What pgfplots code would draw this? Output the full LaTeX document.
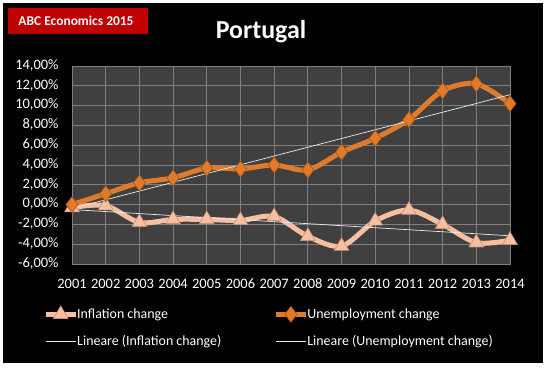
\documentclass[border=0pt]{standalone}
\usepackage{pgfplots}
\pgfplotsset{compat=1.18}
\usepackage{fontspec}
\setmainfont{Carlito}
\definecolor{plotbg}{HTML}{404040}
\definecolor{gridc}{HTML}{7F7F7F}
\definecolor{infl}{HTML}{F7BFA2}
\definecolor{inflD}{HTML}{C98F72}
\definecolor{unem}{HTML}{E07A2C}
\definecolor{unemD}{HTML}{A9560F}
\definecolor{abcred}{HTML}{C00000}
\begin{document}
\begin{tikzpicture}[x=1bp,y=1bp]
\path[use as bounding box] (0,0) rectangle (547,368);
\fill[white] (0,0) rectangle (547,368);
\fill[black] (3,5) rectangle (543,365);
\fill[abcred] (8,334) rectangle (148,360);
\node[text=white,font=\bfseries\fontsize{13.5}{16}\selectfont] at (76,347) {ABC Economics 2015};
\node[text=white,font=\bfseries\fontsize{26}{30}\selectfont] at (261,336) {Portugal};
\begin{axis}[
  at={(72bp,104bp)}, anchor=south west,
  scale only axis, width=438bp, height=198bp,
  xmin=2001, xmax=2014, ymin=-6, ymax=14,
  xtick={2001,2002,2003,2004,2005,2006,2007,2008,2009,2010,2011,2012,2013,2014},
  xticklabels={2001,2002,2003,2004,2005,2006,2007,2008,2009,2010,2011,2012,2013,2014},
  ytick={-6,-4,-2,0,2,4,6,8,10,12,14},
  yticklabels={{-6,00\%},{-4,00\%},{-2,00\%},{0,00\%},{2,00\%},{4,00\%},{6,00\%},{8,00\%},{10,00\%},{12,00\%},{14,00\%}},
  typeset ticklabels with strut,
  axis background/.style={fill=plotbg},
  grid=major, grid style={gridc, line width=0.8bp},
  axis line style={gridc, line width=0.8bp},
  tick style={draw=none},
  ticklabel style={text=white, font=\fontsize{14.5}{17}\selectfont},
  xticklabel style={yshift=-9bp},
  yticklabel style={xshift=-10bp},
  legend style={at={(axis description cs:-0.073,-0.2)}, anchor=north west, draw=none, fill=none,
    text=white, font=\fontsize{14}{16}\selectfont, row sep=11bp,
    /tikz/every even column/.append style={column sep=50bp},
    /tikz/every odd column/.append style={column sep=-3bp}},
  legend columns=2,
  legend cell align=left,
  legend image code/.code={\draw[mark repeat=2,mark phase=2,#1] plot coordinates {(0bp,0bp) (15bp,0bp) (30bp,0bp)};},
]
\addplot[smooth, tension=0.5, color=infl, line width=5bp, mark=triangle*, mark size=8.5bp,
  mark options={fill=infl, draw=inflD, line width=0.6bp}]
  coordinates {(2001,-0.3)(2002,-0.1)(2003,-1.8)(2004,-1.5)(2005,-1.5)(2006,-1.6)(2007,-1.2)(2008,-3.2)(2009,-4.2)(2010,-1.65)(2011,-0.55)(2012,-2.0)(2013,-3.85)(2014,-3.6)};
\addlegendentry{Inflation change}
\addplot[smooth, tension=0.5, color=unem, line width=5bp, mark=diamond*, mark size=8bp,
  mark options={fill=unem, draw=unemD, line width=0.6bp}]
  coordinates {(2001,0.0)(2002,1.1)(2003,2.2)(2004,2.7)(2005,3.7)(2006,3.6)(2007,4.0)(2008,3.5)(2009,5.3)(2010,6.7)(2011,8.6)(2012,11.5)(2013,12.2)(2014,10.2)};
\addlegendentry{Unemployment change}
\addplot[white!85!gray, line width=0.7bp] coordinates {(2001,-0.5)(2014,-3.15)};
\addlegendentry{Lineare (Inflation change)}
\addplot[white!85!gray, line width=0.7bp] coordinates {(2001,-0.4)(2014,11.1)};
\addlegendentry{Lineare (Unemployment change)}
\end{axis}
\end{tikzpicture}
\end{document}
